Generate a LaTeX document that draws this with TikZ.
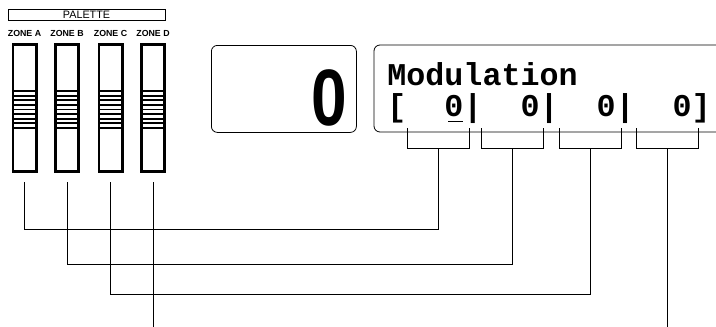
\documentclass[tikz,border=0pt]{standalone}
\usepackage{fontspec}
\setmainfont{Liberation Sans}
\newfontfamily\lcdfont{Liberation Mono}
\usepackage{tikz}

\begin{document}
\begin{tikzpicture}[x=1pt, y=-1pt, line width=0.8pt,
    lab/.style={inner sep=0pt, font=\bfseries\fontsize{8.8}{9}\selectfont},
    slider/.style={draw, line width=2.6pt, minimum width=23.4pt,
      minimum height=127.4pt, inner sep=0pt},
    ridge/.style={line width=1.8pt},
    lcd/.style={inner sep=0pt, anchor=base west,
      font=\lcdfont\bfseries\fontsize{31.7}{33}\selectfont},
    wire/.style={line width=0.75pt}]
  \useasboundingbox (0,0) rectangle (716,327);
  % turn levels of the wires and the lower edge
  \coordinate (lvA) at (0,229);
  \coordinate (lvB) at (0,264);
  \coordinate (lvC) at (0,294);
  \coordinate (bot) at (0,327);
  % ---- palette -------------------------------------------------------
  \node[draw, line width=0.7pt, minimum width=157pt, minimum height=10.5pt,
    inner sep=0pt, font=\fontsize{10.8}{11}\selectfont] (pal) at (86.5,15) {PALETTE};
  \foreach \n/\x in {A/24.5,B/67,C/110.5,D/153}{
    \node[lab] (lab\n) at (\x,33) {ZONE \n};
    \node[slider] (sl\n) at (\x,108) {};
    \foreach \k in {0,...,8}
      \draw[ridge] (\x-11,91+4.6*\k) -- (\x+11,91+4.6*\k);
    \coordinate (tip\n) at ([yshift=-9pt]sl\n.south);
  }
  % ---- displays ------------------------------------------------------
  \node[draw, rounded corners=6pt, minimum width=145pt, minimum height=87pt,
    anchor=north west] (preset) at (211,45) {};
  \node[inner sep=0pt, anchor=base,
    font=\bfseries\fontsize{80}{80}\selectfont] (pnum) at (329,125)
    {\scalebox{0.8}[1]{0}};
  \draw[rounded corners=6pt] (730,45) -- (374,45) -- (374,132) -- (730,132);
  \node[lcd] (modT) at (387,85) {Modulation};
  \node[lcd] (modV) at (387,116) {[\ \ 0|\ \ 0|\ \ 0|\ \ 0]};
  \draw[line width=1.6pt] (448,121.5) -- (463,121.5);
  % ---- brackets under the values --------------------------------------
  \foreach \n/\a/\b in {1/407/469, 2/481/543, 3/559/621, 4/636/698}{
    \draw[wire] (\a,128) -- (\a,148) -- (\b,148) -- (\b,128);
    \coordinate (br\n) at ({(\a+\b)/2},148);
  }
  % ---- wires ---------------------------------------------------------
  \draw[wire] (br1) -- (br1 |- lvA) -| (tipA);
  \draw[wire] (br2) -- (br2 |- lvB) -| (tipB);
  \draw[wire] (br3) -- (br3 |- lvC) -| (tipC);
  \draw[wire] (tipD) -- (tipD |- bot);
  \draw[wire] (br4) -- (br4 |- bot);
\end{tikzpicture}
\end{document}
